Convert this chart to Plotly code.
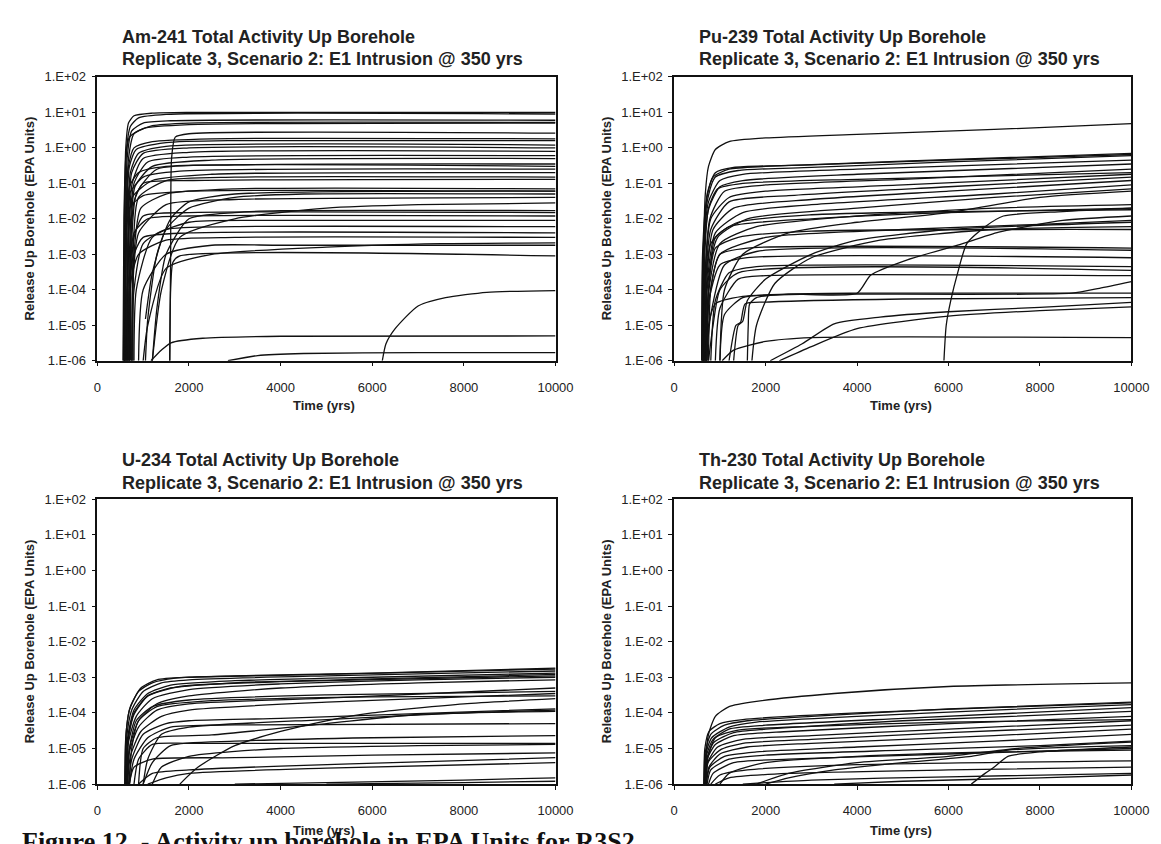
import plotly.graph_objects as go

W, H = 1161, 844

TIME_TICKS = [0, 2000, 4000, 6000, 8000, 10000]
Y_TICKS = [1e-6, 1e-5, 1e-4, 1e-3, 1e-2, 1e-1, 1e0, 1e1, 1e2]
Y_TICK_LABELS = ["1.E-06", "1.E-05", "1.E-04", "1.E-03", "1.E-02",
                 "1.E-01", "1.E+00", "1.E+01", "1.E+02"]

TITLE_LINE1 = ["Am-241 Total Activity Up Borehole",
               "Pu-239 Total Activity Up Borehole",
               "U-234 Total Activity Up Borehole",
               "Th-230 Total Activity Up Borehole"]
TITLE_LINE2 = "Replicate 3, Scenario 2: E1 Intrusion @ 350 yrs"
Y_TITLE = "Release Up Borehole (EPA Units)"
X_TITLE = "Time (yrs)"
CAPTION = "Figure 12. - Activity up borehole in EPA Units for R3S2"

# Each curve: list of (time [yrs], release [EPA units]) points
AM241 = [
    [(570, 1e-6), (590, 1e-2), (620, 1.0), (680, 5.0), (800, 8.0), (1200, 9.5), (2000, 10.0), (10000, 10.0)],
    [(580, 1e-6), (600, 1e-2), (640, 1.0), (720, 4.0), (900, 7.0), (1500, 8.8), (10000, 9.0)],
    [(560, 1e-6), (580, 1e-2), (620, 0.5), (700, 2.0), (1000, 3.5), (2000, 4.5), (10000, 5.0)],
    [(590, 1e-6), (610, 1e-3), (650, 0.5), (750, 3.0), (1000, 5.0), (1600, 5.8), (10000, 6.0)],
    [(600, 1e-6), (620, 1e-3), (680, 0.5), (800, 2.5), (1200, 4.2), (2000, 5.0), (10000, 5.2)],
    [(1580, 1e-6), (1600, 1e-3), (1620, 0.5), (1700, 2.0), (2000, 2.5), (10000, 2.6)],
    [(600, 1e-6), (620, 1e-2), (680, 0.3), (800, 1.0), (1200, 1.5), (2500, 1.8), (10000, 1.8)],
    [(620, 1e-6), (640, 1e-2), (700, 0.3), (850, 0.9), (1500, 1.4), (3000, 1.6), (10000, 1.6)],
    [(640, 1e-6), (660, 1e-3), (720, 0.2), (900, 0.7), (1500, 1.1), (10000, 1.2)],
    [(650, 1e-6), (670, 1e-3), (750, 0.2), (1000, 0.7), (2000, 1.0), (10000, 1.0)],
    [(660, 1e-6), (680, 1e-3), (760, 0.1), (1000, 0.5), (2000, 0.75), (10000, 0.8)],
    [(680, 1e-6), (700, 1e-3), (800, 0.1), (1100, 0.4), (2000, 0.55), (10000, 0.6)],
    [(700, 1e-6), (720, 1e-3), (820, 0.08), (1200, 0.3), (2500, 0.45), (10000, 0.5)],
    [(720, 1e-6), (740, 1e-3), (850, 0.05), (1300, 0.25), (3000, 0.33), (10000, 0.35)],
    [(600, 1e-6), (620, 1e-3), (700, 0.08), (900, 0.2), (1500, 0.3), (10000, 0.3)],
    [(600, 1e-6), (620, 1e-3), (700, 0.05), (1000, 0.15), (1800, 0.22), (10000, 0.25)],
    [(640, 1e-6), (660, 1e-3), (760, 0.04), (1200, 0.12), (2500, 0.18), (10000, 0.2)],
    [(760, 1e-6), (780, 1e-3), (900, 0.04), (1500, 0.12), (3000, 0.15), (10000, 0.15)],
    [(700, 1e-6), (720, 1e-3), (800, 0.03), (1000, 0.1), (2000, 0.12), (10000, 0.13)],
    [(780, 1e-6), (800, 1e-3), (950, 0.02), (1500, 0.05), (3000, 0.07), (10000, 0.07)],
    [(600, 1e-6), (620, 1e-3), (700, 0.02), (1000, 0.045), (2000, 0.06), (10000, 0.06)],
    [(1050, 1.5e-5), (1200, 3e-4), (1500, 5e-3), (2000, 0.02), (3000, 0.04), (4500, 0.05), (10000, 0.05)],
    [(1050, 1e-6), (1100, 1.5e-5), (1300, 1e-3), (1600, 1e-2), (2000, 3e-2), (3000, 5e-2), (10000, 6e-2)],
    [(750, 1e-6), (770, 1e-4), (900, 4e-3), (1500, 2.5e-2), (3000, 0.035), (10000, 0.04)],
    [(1200, 1e-6), (1400, 1e-4), (1800, 3e-3), (3000, 0.01), (5000, 0.02), (7000, 0.025), (10000, 0.028)],
    [(1200, 1e-6), (1300, 3e-5), (1500, 1e-3), (2000, 1e-2), (3000, 1.5e-2), (4000, 1.7e-2), (10000, 1.7e-2)],
    [(700, 1e-6), (720, 1e-4), (800, 3e-3), (1000, 1.2e-2), (2000, 1.5e-2), (10000, 1.5e-2)],
    [(680, 1e-6), (700, 1e-4), (800, 4e-3), (1100, 1e-2), (2000, 1.2e-2), (10000, 1.2e-2)],
    [(800, 1e-6), (850, 1e-4), (1200, 3e-3), (2000, 8e-3), (4000, 9e-3), (10000, 9e-3)],
    [(750, 1e-6), (800, 1e-4), (1000, 2e-3), (1500, 5e-3), (3000, 6e-3), (10000, 6e-3)],
    [(600, 1e-6), (650, 1e-4), (800, 1e-3), (1000, 3e-3), (2000, 4e-3), (10000, 4e-3)],
    [(650, 1e-6), (700, 1e-4), (900, 1e-3), (1500, 2.5e-3), (3000, 3e-3), (10000, 3e-3)],
    [(900, 1e-6), (1000, 1e-4), (1500, 1e-3), (2500, 1.8e-3), (4000, 1.8e-3), (10000, 1.8e-3)],
    [(1000, 1e-6), (1100, 1e-5), (1500, 4e-4), (2500, 1e-3), (5000, 1.6e-3), (7500, 2e-3), (10000, 2.1e-3)],
    [(1580, 1e-6), (1600, 1e-4), (1650, 6e-4), (1800, 9e-4), (10000, 9e-4)],
    [(1170, 1e-6), (1400, 2e-6), (1610, 3.2e-6), (2300, 4.3e-6), (4000, 4.9e-6), (10000, 5e-6)],
    [(2850, 1e-6), (3500, 1.4e-6), (4500, 1.6e-6), (7000, 1.7e-6), (10000, 1.7e-6)],
    [(6220, 1e-6), (6300, 3e-6), (6500, 8e-6), (7000, 3.5e-5), (7600, 6e-5), (8500, 8.5e-5), (10000, 9.5e-5)],
]

PU239 = [
    [(620, 1e-6), (640, 1e-3), (680, 0.05), (750, 0.3), (900, 0.9), (1200, 1.5), (2000, 1.9), (4000, 2.4), (7000, 3.3), (10000, 4.8)],
    [(600, 1e-6), (620, 1e-3), (700, 0.03), (850, 0.15), (1200, 0.25), (2000, 0.3), (5000, 0.42), (10000, 0.7)],
    [(630, 1e-6), (650, 1e-3), (720, 0.05), (900, 0.2), (1300, 0.28), (3000, 0.33), (6000, 0.45), (10000, 0.65)],
    [(610, 1e-6), (630, 1e-3), (720, 0.03), (900, 0.15), (1400, 0.23), (3000, 0.28), (6000, 0.4), (10000, 0.6)],
    [(620, 1e-6), (640, 1e-3), (750, 0.03), (1000, 0.12), (1500, 0.18), (4000, 0.25), (10000, 0.45)],
    [(630, 1e-6), (650, 1e-3), (760, 0.02), (1000, 0.08), (1500, 0.12), (4000, 0.18), (10000, 0.35)],
    [(640, 1e-6), (660, 1e-4), (780, 0.01), (1100, 0.06), (2000, 0.09), (5000, 0.13), (10000, 0.25)],
    [(650, 1e-6), (670, 1e-3), (750, 0.02), (950, 0.07), (1500, 0.1), (4000, 0.13), (10000, 0.2)],
    [(650, 1e-6), (670, 1e-4), (800, 0.01), (1200, 0.04), (2000, 0.06), (5000, 0.09), (10000, 0.18)],
    [(660, 1e-6), (680, 1e-4), (800, 5e-3), (1200, 0.03), (2500, 0.045), (6000, 0.08), (10000, 0.15)],
    [(670, 1e-6), (700, 1e-4), (850, 5e-3), (1300, 0.02), (3000, 0.035), (6000, 0.06), (10000, 0.12)],
    [(680, 1e-6), (710, 1e-4), (900, 4e-3), (1500, 0.015), (3000, 0.025), (7000, 0.05), (10000, 0.09)],
    [(690, 1e-6), (720, 1e-4), (950, 3e-3), (1600, 0.01), (4000, 0.02), (7000, 0.04), (10000, 0.07)],
    [(1000, 1e-6), (1100, 1e-4), (1500, 1e-3), (2500, 4e-3), (4000, 8e-3), (6000, 1.5e-2), (8000, 4e-2), (10000, 6e-2)],
    [(700, 1e-6), (730, 5e-5), (1000, 2e-3), (1800, 6e-3), (4000, 0.012), (7000, 0.02), (10000, 0.025)],
    [(650, 1e-6), (680, 1e-4), (800, 2e-3), (1200, 6e-3), (3000, 1e-2), (6000, 1.5e-2), (10000, 2e-2)],
    [(720, 1e-6), (750, 1e-4), (900, 3e-3), (1400, 8e-3), (3000, 1.3e-2), (6000, 1.6e-2), (10000, 1.8e-2)],
    [(720, 1e-6), (760, 5e-5), (1000, 1e-3), (2000, 3e-3), (5000, 5e-3), (8000, 7e-3), (10000, 9e-3)],
    [(700, 1e-6), (750, 1e-4), (900, 1.5e-3), (1400, 3e-3), (3000, 4.5e-3), (10000, 5e-3)],
    [(1300, 1e-6), (1400, 1e-5), (1500, 1.3e-5), (1600, 5e-5), (2000, 2e-4), (3000, 1e-3), (4000, 2.5e-3), (6000, 5e-3), (10000, 8e-3)],
    [(1700, 1e-6), (1800, 1e-5), (2200, 1.5e-4), (3000, 8e-4), (4500, 2.5e-3), (7000, 5e-3), (10000, 6e-3)],
    [(750, 1e-6), (800, 1e-4), (1000, 1e-3), (1600, 1.5e-3), (10000, 1.5e-3)],
    [(700, 1e-6), (800, 2e-5), (1100, 5e-4), (1800, 1.2e-3), (10000, 1.3e-3)],
    [(700, 1e-6), (760, 5e-5), (1000, 5e-4), (1600, 8e-4), (10000, 8e-4)],
    [(800, 1e-6), (900, 5e-5), (1200, 3e-4), (1800, 4.5e-4), (10000, 4.5e-4)],
    [(750, 1e-6), (850, 1e-5), (1000, 1e-4), (1400, 3e-4), (10000, 3.5e-4)],
    [(900, 1e-6), (1000, 3e-5), (1400, 2e-4), (2000, 2.5e-4), (10000, 2.5e-4)],
    [(1000, 1e-6), (1100, 2e-5), (1500, 6e-5), (2500, 7.5e-5), (4000, 8e-5), (4300, 2.6e-4), (5100, 7e-4), (6200, 1.8e-3), (7100, 4.2e-3), (8500, 9e-3), (10000, 1.2e-2)],
    [(1600, 1e-6), (1620, 1e-5), (1650, 4e-5), (1800, 6e-5), (2500, 7.5e-5), (4000, 8e-5), (10000, 8e-5)],
    [(700, 1e-6), (750, 1e-5), (900, 4e-5), (1500, 6.5e-5), (3000, 7.5e-5), (8700, 8e-5), (9300, 1.1e-4), (10000, 1.7e-4)],
    [(5900, 1e-6), (5950, 1e-5), (6050, 5e-5), (6200, 3e-4), (6400, 2e-3), (6800, 6e-3), (7200, 1.2e-2), (8500, 1.6e-2), (10000, 2e-2)],
    [(1200, 1e-6), (1350, 1e-5), (1450, 1.2e-5), (1550, 4e-5), (2000, 4.5e-5), (5000, 5.5e-5), (10000, 6e-5)],
    [(2100, 1e-6), (2800, 3e-6), (3500, 1.1e-5), (4500, 1.7e-5), (6000, 2.4e-5), (8000, 3.2e-5), (10000, 4.4e-5)],
    [(2300, 1e-6), (3000, 2.5e-6), (4000, 8e-6), (6000, 1.8e-5), (8000, 2.6e-5), (10000, 3.3e-5)],
    [(1050, 1e-6), (1300, 2e-6), (2000, 3.5e-6), (3000, 4.5e-6), (10000, 4.5e-6)],
]

U234 = [
    [(600, 1e-6), (620, 2e-5), (700, 1.2e-4), (900, 4e-4), (1200, 7e-4), (1700, 9.5e-4), (3000, 1.1e-3), (6000, 1.3e-3), (10000, 1.8e-3)],
    [(600, 1e-6), (630, 3e-5), (720, 1.5e-4), (950, 5e-4), (1300, 8.5e-4), (2000, 1e-3), (5000, 1.2e-3), (10000, 1.7e-3)],
    [(610, 1e-6), (640, 2e-5), (750, 1.2e-4), (1000, 4e-4), (1400, 7e-4), (2000, 8.5e-4), (5000, 1.1e-3), (10000, 1.5e-3)],
    [(620, 1e-6), (660, 2e-5), (800, 1.2e-4), (1100, 3.5e-4), (1600, 6e-4), (3000, 8e-4), (6000, 1e-3), (10000, 1.3e-3)],
    [(620, 1e-6), (660, 1.5e-5), (800, 9e-5), (1100, 3e-4), (1600, 5e-4), (3000, 7e-4), (6000, 9e-4), (10000, 1.2e-3)],
    [(640, 1e-6), (680, 2e-5), (800, 1e-4), (1100, 3e-4), (1800, 5.5e-4), (4000, 7.5e-4), (10000, 1.1e-3)],
    [(630, 1e-6), (680, 1.5e-5), (850, 8e-5), (1200, 2.5e-4), (2000, 4.5e-4), (4000, 6.5e-4), (7000, 8.5e-4), (10000, 1e-3)],
    [(640, 1e-6), (700, 1e-5), (900, 6e-5), (1300, 1.8e-4), (2000, 3e-4), (4000, 5e-4), (7000, 7e-4), (10000, 8.5e-4)],
    [(650, 1e-6), (700, 8e-6), (900, 4e-5), (1300, 1.2e-4), (2000, 1.8e-4), (5000, 2.6e-4), (10000, 5e-4)],
    [(660, 1e-6), (700, 1e-5), (850, 6e-5), (1200, 1.5e-4), (2000, 2.3e-4), (5000, 3.2e-4), (10000, 4e-4)],
    [(660, 1e-6), (720, 6e-6), (950, 3e-5), (1400, 8e-5), (2000, 1.2e-4), (5000, 2e-4), (10000, 3.5e-4)],
    [(700, 1e-6), (750, 1e-5), (900, 6e-5), (1300, 1.5e-4), (2500, 2.2e-4), (6000, 2.8e-4), (10000, 3e-4)],
    [(1800, 1e-6), (2200, 3e-6), (3000, 1.2e-5), (4000, 3e-5), (5000, 6e-5), (6000, 1e-4), (8000, 1.8e-4), (10000, 2.5e-4)],
    [(680, 1e-6), (750, 5e-6), (1000, 2.5e-5), (1500, 5e-5), (2000, 6e-5), (4000, 7e-5), (10000, 1.3e-4)],
    [(1000, 1e-6), (1100, 5e-6), (1400, 2.5e-5), (2000, 4e-5), (5000, 6.5e-5), (8000, 1e-4), (10000, 1.2e-4)],
    [(900, 1e-6), (1000, 1e-5), (1300, 2e-5), (2500, 2.4e-5), (5000, 5e-5), (7000, 9e-5), (10000, 1.1e-4)],
    [(700, 1e-6), (800, 5e-6), (1100, 2e-5), (1600, 4e-5), (3000, 4.6e-5), (10000, 5e-5)],
    [(1000, 1e-6), (1200, 4e-6), (1600, 1.2e-5), (3000, 1.6e-5), (6000, 2e-5), (10000, 2.3e-5)],
    [(800, 1e-6), (900, 5e-6), (1200, 1.3e-5), (2000, 1.4e-5), (10000, 1.4e-5)],
    [(1200, 1e-6), (1400, 3e-6), (2000, 6e-6), (4000, 1e-5), (7000, 1.2e-5), (10000, 1.3e-5)],
    [(700, 1e-6), (800, 3e-6), (1200, 5e-6), (3000, 5.5e-6), (6000, 6.5e-6), (10000, 7.5e-6)],
    [(900, 1e-6), (1200, 2e-6), (2000, 2.5e-6), (4000, 3.2e-6), (7000, 4.2e-6), (10000, 5.5e-6)],
    [(1100, 1e-6), (1500, 1.5e-6), (2000, 2e-6), (5000, 2.8e-6), (10000, 4e-6)],
    [(3000, 1e-6), (5000, 1.1e-6), (8000, 1.3e-6), (10000, 1.5e-6)],
    [(5000, 1e-6), (8000, 1.1e-6), (10000, 1.2e-6)],
]

TH230 = [
    [(690, 1e-6), (710, 1e-5), (750, 2.5e-5), (900, 8e-5), (1200, 1.5e-4), (1800, 2.1e-4), (3500, 3.5e-4), (6000, 5.5e-4), (10000, 7e-4)],
    [(650, 1e-6), (670, 1e-5), (760, 3e-5), (1000, 5e-5), (1500, 6.5e-5), (4000, 1e-4), (7000, 1.4e-4), (10000, 1.9e-4)],
    [(650, 1e-6), (680, 8e-6), (800, 2.5e-5), (1100, 4.5e-5), (1600, 6e-5), (3000, 8e-5), (6000, 1.3e-4), (10000, 2e-4)],
    [(660, 1e-6), (690, 7e-6), (820, 2e-5), (1200, 4e-5), (1800, 5.5e-5), (4000, 8e-5), (7000, 1.2e-4), (10000, 1.7e-4)],
    [(660, 1e-6), (700, 6e-6), (850, 1.8e-5), (1200, 3.5e-5), (2000, 4.5e-5), (5000, 7e-5), (10000, 1.4e-4)],
    [(670, 1e-6), (710, 5e-6), (870, 1.5e-5), (1300, 2.8e-5), (2000, 3.5e-5), (5000, 6e-5), (10000, 1.1e-4)],
    [(680, 1e-6), (720, 5e-6), (900, 1.3e-5), (1300, 2.3e-5), (2500, 3e-5), (6000, 5e-5), (10000, 8e-5)],
    [(700, 1e-6), (740, 6e-6), (900, 2e-5), (1400, 3.3e-5), (3000, 4.2e-5), (6000, 5.5e-5), (10000, 6.5e-5)],
    [(680, 1e-6), (730, 4e-6), (950, 1.1e-5), (1500, 1.8e-5), (3000, 2.3e-5), (6000, 3.5e-5), (10000, 6e-5)],
    [(690, 1e-6), (740, 4e-6), (1000, 9e-6), (1500, 1.4e-5), (3000, 1.8e-5), (6000, 2.8e-5), (10000, 4.5e-5)],
    [(700, 1e-6), (760, 3e-6), (1000, 7e-6), (1600, 1.1e-5), (3000, 1.4e-5), (7000, 2.3e-5), (10000, 3.5e-5)],
    [(700, 1e-6), (780, 3e-6), (1100, 6e-6), (1800, 8e-6), (4000, 1.1e-5), (7000, 1.6e-5), (10000, 2.5e-5)],
    [(720, 1e-6), (800, 2.5e-6), (1200, 5e-6), (2000, 6.5e-6), (5000, 9e-6), (8000, 1.2e-5), (10000, 1.6e-5)],
    [(1800, 1e-6), (2500, 2e-6), (4000, 4e-6), (6000, 6e-6), (7500, 1e-5), (10000, 1.5e-5)],
    [(2000, 1e-6), (2500, 1.5e-6), (3500, 2.5e-6), (5000, 4e-6), (6500, 6e-6), (7300, 9e-6), (10000, 1.2e-5)],
    [(6500, 1e-6), (6800, 2e-6), (7000, 3e-6), (7300, 6e-6), (8000, 8e-6), (10000, 1.1e-5)],
    [(750, 1e-6), (850, 2e-6), (1300, 4e-6), (2500, 5e-6), (6000, 7e-6), (10000, 1e-5)],
    [(1000, 1e-6), (1200, 2e-6), (2000, 4e-6), (4000, 6e-6), (7000, 8e-6), (10000, 9e-6)],
    [(800, 1e-6), (1000, 1.8e-6), (1600, 2.5e-6), (4000, 3.5e-6), (10000, 4.5e-6)],
    [(900, 1e-6), (1200, 1.5e-6), (2500, 2e-6), (6000, 2.5e-6), (10000, 3e-6)],
    [(1500, 1e-6), (3000, 1.3e-6), (6000, 1.6e-6), (10000, 2e-6)],
    [(3500, 1e-6), (5000, 1.2e-6), (8000, 1.5e-6), (10000, 1.8e-6)],
]

PANELS = [AM241, PU239, U234, TH230]

# ---- layout geometry (pixels) ----
COLS = [(87, 554), (675, 1141)]
ROWS = [(63, 352), (493, 783)]
TITLE_X = [110, 698]
TITLE_Y = [(22, 45), (453, 476)]
YTITLE_X = [18, 606]
XTITLE_Y = [398, 830]
FONT = "Liberation Sans, Arial, sans-serif"


def px(x):
    return x / W


def py(y):
    return 1 - y / H


fig = go.Figure()
annotations = []
for i, curves in enumerate(PANELS):
    r, c = divmod(i, 2)
    ax = "" if i == 0 else str(i + 1)
    for crv in curves:
        fig.add_trace(go.Scatter(
            x=[p[0] for p in crv], y=[p[1] for p in crv],
            mode="lines", line=dict(color="#111111", width=1.3, shape="spline", smoothing=0.6),
            xaxis="x" + ax, yaxis="y" + ax,
            showlegend=False, hoverinfo="skip"))
    x0, x1 = COLS[c]
    y0, y1 = ROWS[r]
    axis_common = dict(showline=True, mirror=True, linecolor="#111111", linewidth=1.5,
                       ticks="outside", ticklen=4, tickcolor="#111111", tickwidth=1.2,
                       showgrid=False, zeroline=False,
                       tickfont=dict(family=FONT, size=13, color="#222222"))
    fig.update_layout(**{
        "xaxis" + ax: dict(domain=[px(x0), px(x1)], range=[0, 10000],
                           tickvals=TIME_TICKS, ticktext=[str(t) for t in TIME_TICKS],
                           anchor="y" + ax, ticklabelstandoff=10, **axis_common),
        "yaxis" + ax: dict(domain=[py(y1), py(y0)], type="log", range=[-6, 2],
                           tickvals=Y_TICKS, ticktext=Y_TICK_LABELS,
                           anchor="x" + ax, ticklabelstandoff=3, **axis_common),
    })
    tfont = dict(family=FONT, size=18, color="#222222")
    annotations.append(dict(text="<b>" + TITLE_LINE1[i] + "</b>", x=px(TITLE_X[c]), y=py(TITLE_Y[r][0]),
                            xref="paper", yref="paper", xanchor="left", yanchor="middle",
                            showarrow=False, font=tfont))
    annotations.append(dict(text="<b>" + TITLE_LINE2 + "</b>", x=px(TITLE_X[c]), y=py(TITLE_Y[r][1]),
                            xref="paper", yref="paper", xanchor="left", yanchor="middle",
                            showarrow=False, font=tfont))
    afont = dict(family=FONT, size=13, color="#222222")
    annotations.append(dict(text="<b>" + Y_TITLE + "</b>", x=px(YTITLE_X[c]), y=py((y0 + y1) / 2),
                            xref="paper", yref="paper", xanchor="center", yanchor="middle",
                            textangle=-90, showarrow=False, font=afont))
    annotations.append(dict(text="<b>" + X_TITLE + "</b>", x=px((x0 + x1) / 2 - 2), y=py(XTITLE_Y[r]),
                            xref="paper", yref="paper", xanchor="center", yanchor="middle",
                            showarrow=False, font=afont))

annotations.append(dict(text="<b>" + CAPTION + "</b>", x=px(8), y=py(841),
                        xref="paper", yref="paper", xanchor="left", yanchor="middle",
                        showarrow=False,
                        font=dict(family="Liberation Serif, Times New Roman, serif", size=26, color="#111111")))

fig.update_layout(width=W, height=H, margin=dict(l=0, r=0, t=0, b=0),
                  paper_bgcolor="white", plot_bgcolor="white",
                  annotations=annotations, showlegend=False)

fig.write_html("out.html")
